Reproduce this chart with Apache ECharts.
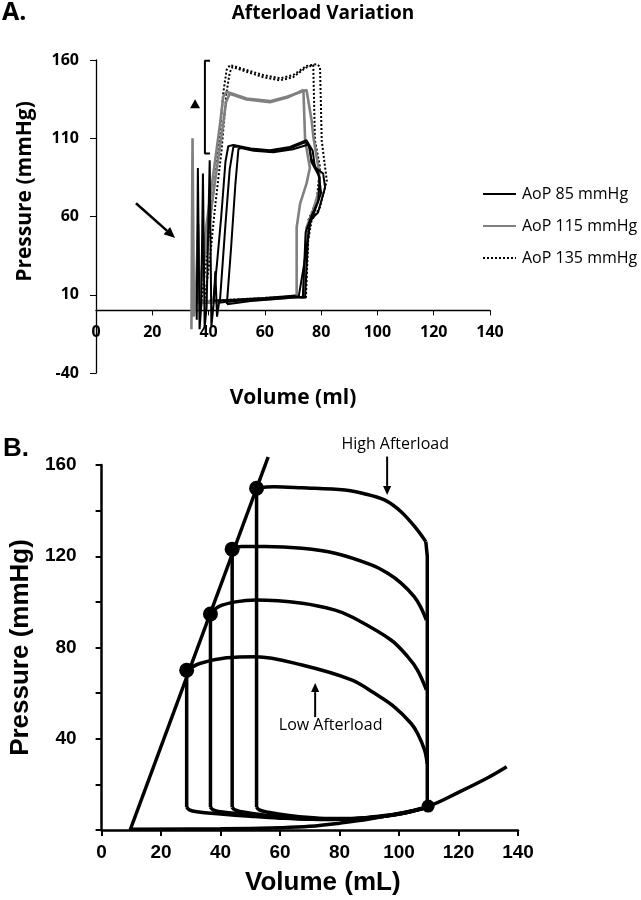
<!DOCTYPE html>
<html>
<head>
<meta charset="utf-8">
<script src="https://cdn.jsdelivr.net/npm/echarts@6/dist/echarts.min.js"></script>
<style>
  html, body { margin: 0; padding: 0; background: #fff; }
  #chart { width: 641px; height: 900px; }
</style>
</head>
<body>
<div id="chart"></div>
<script>
// ---- Panel A: afterload variation, PV loops (volume ml, pressure mmHg)
const aTicksY = [-40, 10, 60, 110, 160];
const legendNames = ['AoP 85 mmHg', 'AoP 115 mmHg', 'AoP 135 mmHg'];

const aop85LoopA = [[41.7,6.2],[50,7],[60,8],[70,9.4],[74.3,8],[75.3,44.6],[76,57.4],[78.9,62.6],[81.4,78.6],[80.7,87.5],[77.8,91.4],[77,102],[74.8,108.7],[68.9,104.4],[61.8,102.3],[55,103.5],[48.8,105.7],[47,104.9],[46,95],[44.5,60],[43,30],[41.7,6.2]];
const aop85LoopB = [[44,5],[52,6.5],[62,7.5],[70,8.5],[73.5,8.3],[74.5,50],[76.5,60],[79,70],[79.5,85],[76.5,95],[76,104],[74.5,107.5],[69,103.5],[62,101.5],[55,103],[50.5,104.5],[48.8,104.5],[47.5,90],[46,55],[44,5]];
const aop85LoopC = [[46.5,4],[55,6],[65,7.5],[72,8.5],[74,30],[76,55],[80,75],[79,88],[76.5,97],[75.5,106],[70,103],[63,101],[56,102],[51.5,103.8],[50.6,103],[49.5,80],[48,40],[46.5,4]];
const aop85Spikes = [[35.8,-6],[36.2,91],[36.8,-12],[37.4,3],[38,87.5],[38.6,-11],[39.3,2],[40.4,96],[41,-10],[41.8,4],[42.4,25],[43,-4],[43.8,6]];

const aop115LoopA = [[36.4,6.2],[42,5.5],[50,6.5],[60,7.5],[68,8.5],[73.7,8.3],[74.8,53],[77.1,63.8],[79.6,78.8],[79,91.6],[77.3,110],[76.6,121.5],[74.8,140.8],[74.3,141.2],[67.8,136.5],[61.8,133.7],[53.5,135.4],[46.4,139.7],[45.2,136.5],[44.1,119.4],[41.7,87.4],[39.3,55.3],[36.4,6.2]];
const aop115LoopB = [[35.5,5],[42,5],[50,6],[60,7],[68,8],[71.3,10],[71.3,53],[72.5,68],[74.8,81],[76,91],[74.3,108.7],[73.7,140.8],[68,136],[61.8,133],[53.5,134.8],[47.5,138.5],[46.2,133],[45,117],[42.5,85],[40,52],[37.5,20],[35.5,5]];
const aop115Spikes = [[33.9,-12],[34.3,110],[34.8,-4],[35.4,4],[36.3,55],[36.9,0],[37.5,5]];

const aop135LoopA = [[37.5,6.2],[45,6.5],[55,7.5],[65,8.5],[72,9],[74.6,8.3],[75.4,44.6],[76.6,57.4],[79.6,66],[82,83],[80.8,100],[80.2,108.7],[79.6,155.7],[78.4,157.4],[74.8,156.2],[70.1,150.4],[65.4,148.3],[59.4,150.4],[53.5,153.6],[47.6,156.8],[46.4,153.6],[45.2,138.7],[43.5,102.3],[41.1,66],[39.3,33.9],[37.5,6.2]];
const aop135LoopB = [[38.5,5],[46,6],[56,7],[66,8],[71,8.5],[73.7,8.5],[75.4,57.4],[78.4,70],[79.6,91.6],[77.8,108.7],[77.2,156.8],[74.5,155],[70,149],[65.4,147],[59.4,149],[53.5,152.5],[48.5,155.5],[47.5,152],[46.3,138],[44.6,102],[42.3,66],[40.5,34],[38.5,5]];

// annotations A (data coords)
const aArrow = [[14.2,68.5],[28.1,46.3]];
const aBracket = [[40.5,159.5],[38.7,159.5],[38.7,100.2],[40.5,100.2]];
const aTriangle = [[35.2,132]];

// ---- Panel B: schematic loops
const espvr = [[9.6,0],[56,163.5]];
const edpvr = [[10,0.3],[40,0.5],[60,1],[70,1.6],[80,3],[90,4.8],[100,7.3],[110,10.5],[120,16.5],[130,23],[136.2,27.7]];
const endSystolePts = [[28.6,70],[36.6,94.7],[43.9,123.1],[52.1,149.8]];
const endDiastolePt = [[109.8,10.5]];
const contraction = [[109.5,10],[109.5,120],[109,126.4]];

const ejectLow = [[109.5,29],[108.6,35],[106.2,42.4],[104,46.8],[98.4,54],[91.8,59.9],[84,65.8],[67.4,72.3],[51.9,76],[42,75.5],[33,73],[28.6,70]];
const eject100 = [[109.2,61.4],[106.2,70.1],[102.9,76],[97.3,83.3],[84,93.5],[78.5,96.4],[67.4,99.4],[51.9,100.8],[45,100],[39.5,98],[36.6,94.7]];
const eject123 = [[109.2,92],[107.2,97.9],[105.1,102.3],[100.7,108.2],[96.2,112.5],[90.7,116.2],[78.5,121.3],[67.4,123.5],[55,124.3],[47,124.3],[43.9,123]];
const ejectHigh = [[109,126.4],[106.2,131.5],[100.7,139.5],[95.1,144.7],[88,147.5],[81.8,149],[67.4,150],[58,150.5],[52.1,150]];

const relaxLow = [[28.6,70],[28.6,10]];
const relax100 = [[36.6,94.7],[36.6,10]];
const relax123 = [[43.9,123.1],[43.9,10]];
const relaxHigh = [[52.1,149.8],[52.1,10]];

const fillLow = [[28.6,10],[29.5,8.8],[32,8],[40,7],[50,6],[60,5.2],[70,4.8],[80,4.8],[90,5.6],[100,7.2],[109.5,10]];
const fill100 = [[36.6,10],[37.5,8.8],[40,8],[48,6.8],[56,5.8],[65,5],[75,4.6],[85,4.9],[95,6],[103,7.8],[109.5,10]];
const fill123 = [[43.9,10],[44.8,8.8],[47,8],[55,6.5],[63,5.4],[72,4.8],[82,4.7],[92,5.5],[101,7.2],[109.5,10]];
const fillHigh = [[52.1,10],[53,8.8],[56,7.8],[63,6.4],[70,5.5],[78,5],[87,5.2],[96,6.2],[104,8],[109.5,10]];

// annotations B (data coords)
const highArrow = [[96,163.7],[96,146.9]];
const highLabel = [98.7,168.8];
const lowArrow = [[71.8,49.5],[71.8,64.4]];
const lowLabel = [77,46];

const chart = echarts.init(document.getElementById('chart'));

function line(data, grid, style, extra) {
  return Object.assign({
    type: 'line', xAxisIndex: grid, yAxisIndex: grid, data: data,
    symbol: 'none', silent: true, lineStyle: style,
    itemStyle: { color: style.color }
  }, extra || {});
}

const s85 = { color: '#000', width: 2 };
const s115 = { color: '#808080', width: 2.6 };
const s135 = { color: '#000', width: 2, type: [2, 2] };
const sB = { color: '#000', width: 3.5 };

const series = [
  line(aop135LoopA, 0, s135, { name: legendNames[2] }),
  line(aop135LoopB, 0, s135, { name: legendNames[2] }),
  line(aop115LoopA, 0, s115, { name: legendNames[1] }),
  line(aop115LoopB, 0, s115, { name: legendNames[1] }),
  line(aop115Spikes, 0, s115, { name: legendNames[1] }),
  line(aop85LoopA, 0, s85, { name: legendNames[0] }),
  line(aop85LoopB, 0, s85, { name: legendNames[0] }),
  line(aop85LoopC, 0, s85, { name: legendNames[0] }),
  line(aop85Spikes, 0, s85, { name: legendNames[0] }),
  line(aBracket, 0, { color: '#000', width: 2 }),
  { type: 'scatter', xAxisIndex: 0, yAxisIndex: 0, data: aTriangle, symbol: 'triangle',
    symbolSize: [10, 9], itemStyle: { color: '#000', opacity: 1 }, silent: true },

  line(espvr, 1, sB, { clip: false }),
  line(edpvr, 1, sB, { smooth: 0.4 }),
  line(contraction, 1, sB),
  line(ejectLow, 1, sB, { smooth: 0.35 }),
  line(eject100, 1, sB, { smooth: 0.35 }),
  line(eject123, 1, sB, { smooth: 0.35 }),
  line(ejectHigh, 1, sB, { smooth: 0.35 }),
  line(relaxLow, 1, sB),
  line(relax100, 1, sB),
  line(relax123, 1, sB),
  line(relaxHigh, 1, sB),
  line(fillLow, 1, sB, { smooth: 0.4 }),
  line(fill100, 1, sB, { smooth: 0.4 }),
  line(fill123, 1, sB, { smooth: 0.4 }),
  line(fillHigh, 1, sB, { smooth: 0.4 }),
  { type: 'scatter', xAxisIndex: 1, yAxisIndex: 1, data: endSystolePts, symbolSize: 15,
    itemStyle: { color: '#000', opacity: 1 }, silent: true, z: 5 },
  { type: 'scatter', xAxisIndex: 1, yAxisIndex: 1, data: endDiastolePt, symbolSize: 13,
    itemStyle: { color: '#000', opacity: 1 }, silent: true, z: 5 }
];

const fontA = 'Open Sans';
const fontB = 'Liberation Sans';

const option = {
  animation: false,
  backgroundColor: '#fff',
  title: [
    { text: 'A.', left: 2, top: 0, padding: 0,
      textStyle: { fontFamily: fontA, fontWeight: 'bold', fontSize: 25, color: '#000' } },
    { text: 'Afterload Variation', left: 323, top: 4, padding: 0, textAlign: 'center',
      textStyle: { fontFamily: fontA, fontWeight: 'bold', fontSize: 19, color: '#000' } },
    { text: 'B.', left: 3, top: 436, padding: 0,
      textStyle: { fontFamily: fontB, fontWeight: 'bold', fontSize: 26, color: '#000' } }
  ],
  legend: {
    data: legendNames, orient: 'vertical', left: 482, top: 186,
    itemWidth: 33, itemHeight: 14, itemGap: 16, padding: 0,
    itemStyle: { opacity: 0 },
    textStyle: { fontFamily: 'Open Sans', fontSize: 16, color: '#000', padding: [0, 0, 0, 1] },
    selectedMode: false
  },
  grid: [
    { left: 96, top: 60, width: 394, height: 313 },
    { left: 97, top: 465, width: 421, height: 365 }
  ],
  xAxis: [
    { type: 'value', gridIndex: 0, min: 0, max: 140, interval: 20,
      position: 'bottom', offset: -62.6,
      name: 'Volume (ml)', nameLocation: 'middle', nameGap: 77,
      nameTextStyle: { fontFamily: fontA, fontWeight: 'bold', fontSize: 21, color: '#000' },
      axisLine: { onZero: false, lineStyle: { color: '#000', width: 1.3 } },
      axisTick: { inside: false, length: 5, lineStyle: { color: '#000', width: 1 } },
      axisLabel: { margin: 14, fontFamily: fontA, fontWeight: 'bold', fontSize: 16, color: '#000' },
      splitLine: { show: false } },
    { type: 'value', gridIndex: 1, min: 0, max: 140, interval: 20,
      name: 'Volume (mL)', nameLocation: 'middle', nameGap: 40,
      nameTextStyle: { fontFamily: fontB, fontWeight: 'bold', fontSize: 26, color: '#000', padding: [0, 0, 0, 26] },
      axisLine: { onZero: false, lineStyle: { color: '#000', width: 2.5 } },
      axisTick: { inside: false, length: 6, lineStyle: { color: '#000', width: 2 } },
      axisLabel: { margin: 13, fontFamily: fontB, fontWeight: 'bold', fontSize: 19, color: '#000' },
      splitLine: { show: false } }
  ],
  yAxis: [
    { type: 'value', gridIndex: 0, min: -40, max: 160,
      name: 'Pressure (mmHg)', nameLocation: 'middle', nameGap: 60,
      nameTextStyle: { fontFamily: fontA, fontWeight: 'bold', fontSize: 21, color: '#000', padding: [0, 0, 0, 50] },
      axisLine: { show: true, onZero: false, lineStyle: { color: '#000', width: 1.3 } },
      axisTick: { show: true, inside: false, length: 6, customValues: aTicksY, lineStyle: { color: '#000', width: 1 } },
      axisLabel: { margin: 17, customValues: aTicksY, fontFamily: fontA, fontWeight: 'bold', fontSize: 16, color: '#000' },
      splitLine: { show: false } },
    { type: 'value', gridIndex: 1, min: 0, max: 160, interval: 20,
      name: 'Pressure (mmHg)', nameLocation: 'middle', nameGap: 62,
      nameTextStyle: { fontFamily: fontB, fontWeight: 'bold', fontSize: 26, color: '#000' },
      axisLine: { show: true, onZero: false, lineStyle: { color: '#000', width: 2.5 } },
      axisTick: { show: true, inside: false, length: 6, lineStyle: { color: '#000', width: 2 } },
      axisLabel: { margin: 25, fontFamily: fontB, fontWeight: 'bold', fontSize: 19, color: '#000',
        formatter: v => (v > 0 && v % 40 === 0) ? String(v) : '' },
      splitLine: { show: false } }
  ],
  series: series
};

chart.setOption(option);

// annotation arrows and labels, placed from data coordinates
function arrow(grid, pts, width, head) {
  const a = chart.convertToPixel({ gridIndex: grid }, pts[0]);
  const b = chart.convertToPixel({ gridIndex: grid }, pts[1]);
  const dx = b[0] - a[0], dy = b[1] - a[1];
  const len = Math.sqrt(dx * dx + dy * dy);
  const ux = dx / len, uy = dy / len;
  const bx = b[0] - ux * head, by = b[1] - uy * head;
  const w = head * 0.45;
  return [
    { type: 'line', silent: true, shape: { x1: a[0], y1: a[1], x2: bx, y2: by },
      style: { stroke: '#000', lineWidth: width } },
    { type: 'polygon', silent: true,
      shape: { points: [[b[0], b[1]], [bx - uy * w, by + ux * w], [bx + uy * w, by - ux * w]] },
      style: { fill: '#000' } }
  ];
}
function label(grid, pt, text) {
  const p = chart.convertToPixel({ gridIndex: grid }, pt);
  return { type: 'text', silent: true, x: p[0], y: p[1],
    style: { text: text, fontFamily: 'Open Sans', fontSize: 16, fill: '#000', align: 'center', verticalAlign: 'middle' } };
}

chart.setOption({
  graphic: [].concat(
    arrow(0, aArrow, 2.5, 11),
    arrow(1, highArrow, 2, 9),
    arrow(1, lowArrow, 2, 9),
    [label(1, highLabel, 'High Afterload'), label(1, lowLabel, 'Low Afterload')]
  )
});
</script>
</body>
</html>
